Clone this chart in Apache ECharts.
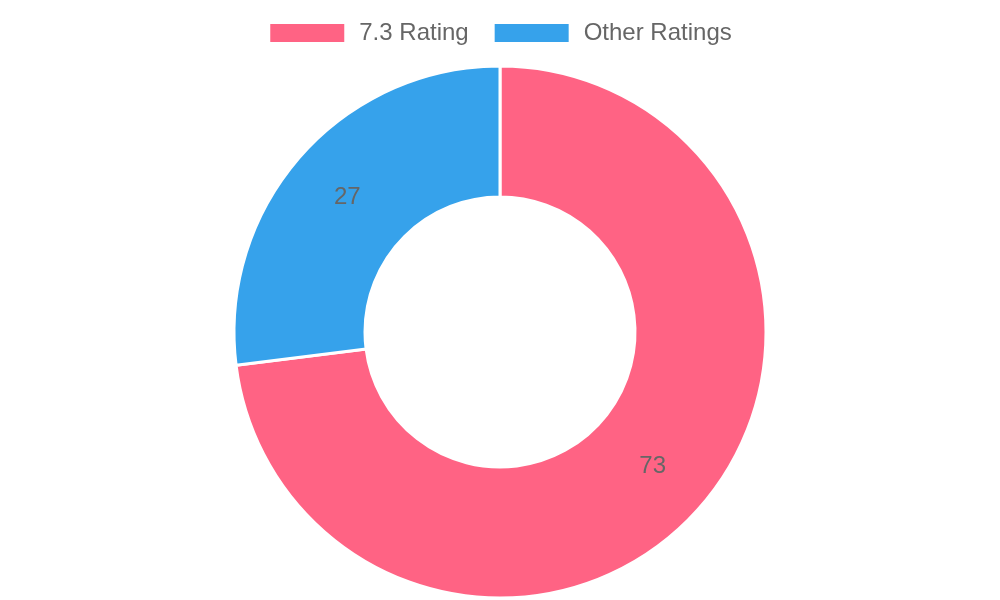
<!DOCTYPE html>
<html>
<head>
<meta charset="utf-8">
<script src="https://cdn.jsdelivr.net/npm/echarts@6/dist/echarts.min.js"></script>
<style>
    html, body { margin: 0; padding: 0; background: #fff; }
    #chart { width: 1000px; height: 600px; }
</style>
</head>
<body>
<div id="chart"></div>
<script>
// 数据
const categories = ['7.3 Rating', 'Other Ratings'];
const values = [73, 27];
const colors = ['#FF6384', '#36A2EB'];

const chart = echarts.init(document.getElementById('chart'));

chart.setOption({
    animation: false,
    color: colors,
    legend: {
        top: 16,
        left: 'center',
        itemWidth: 76,
        itemHeight: 20,
        itemGap: 24,
        icon: 'rect',
        selectedMode: false,
        textStyle: {
            color: '#666',
            fontSize: 24,
            fontFamily: 'Liberation Sans, Arial, sans-serif',
            padding: [0, 0, 0, 9]
        },
        data: categories
    },
    series: [{
        type: 'pie',
        center: [500, 332],
        radius: [135, 266],
        startAngle: 90,
        clockwise: true,
        emphasis: { disabled: true },
        itemStyle: {
            borderColor: '#fff',
            borderWidth: 3
        },
        label: {
            show: true,
            position: 'inside',
            formatter: '{c}',
            color: '#666',
            fontSize: 24,
            fontFamily: 'Liberation Sans, Arial, sans-serif'
        },
        labelLine: { show: false },
        data: categories.map((name, i) => ({ name: name, value: values[i] }))
    }]
});
</script>
</body>
</html>
